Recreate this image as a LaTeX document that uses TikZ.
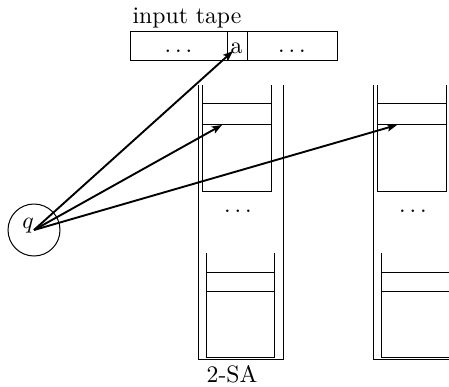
\documentclass[tikz,border=0pt]{standalone}
\usetikzlibrary{arrows.meta}
\begin{document}
\begin{tikzpicture}[x=1bp,y=-1bp,
  box/.style={line width=1bp},
  arr/.style={line width=1.9bp,-{Stealth[length=10bp,width=7.5bp,inset=2bp]}},
  lbl/.style={inner sep=0pt}]
\newcommand{\bigtxt}[1]{\scalebox{2.38}{#1}}
\useasboundingbox (0,0) rectangle (449,386);
\clip (0,0) rectangle (449,386);
% input tape
\node[lbl, anchor=base] (tl) at (187,23) {\bigtxt{input tape}};
\draw[box] (130,31) rectangle (337,60);
\draw[box] (227,31) -- (227,60) (247,31) -- (247,60);
\node[lbl, anchor=base] (d1) at (178.5,52) {\bigtxt{$\ldots$}};
\node[lbl, anchor=base] (ca) at (236.5,53) {\bigtxt{a}};
\node[lbl, anchor=base] (d2) at (292,52) {\bigtxt{$\ldots$}};
% stacks
\foreach \dx/\nm in {0/a,175/b} {
  \begin{scope}[shift={(\dx,0)}]
    \draw[box] (198,85) -- (198,359) -- (283,359) -- (283,85);
    \draw[box] (202,85) -- (202,191) -- (271,191) -- (271,85);
    \draw[box] (202,103) -- (271,103) (202,124) -- (271,124);
    \draw[box] (206,253) -- (206,357) -- (274,357) -- (274,253);
    \draw[box] (206,272) -- (274,272) (206,291) -- (274,291);
    \node[lbl, anchor=base] (sd\nm) at (238,212) {\bigtxt{$\ldots$}};
  \end{scope}
}
\node[lbl, anchor=base] (sa) at (232,382) {\bigtxt{2-SA}};
% state
\node[circle, draw, box, minimum size=52bp, inner sep=0pt] (q) at (34,230) {};
\node[lbl, anchor=base] (qt) at (28,228) {\bigtxt{$q$}};
\coordinate (t1) at (233,51);
\coordinate (t2) at (222,125);
\coordinate (t3) at (397,125);
\draw[arr] (q.center) -- (t1);
\draw[arr] (q.center) -- (t2);
\draw[arr] (q.center) -- (t3);
\end{tikzpicture}
\end{document}
